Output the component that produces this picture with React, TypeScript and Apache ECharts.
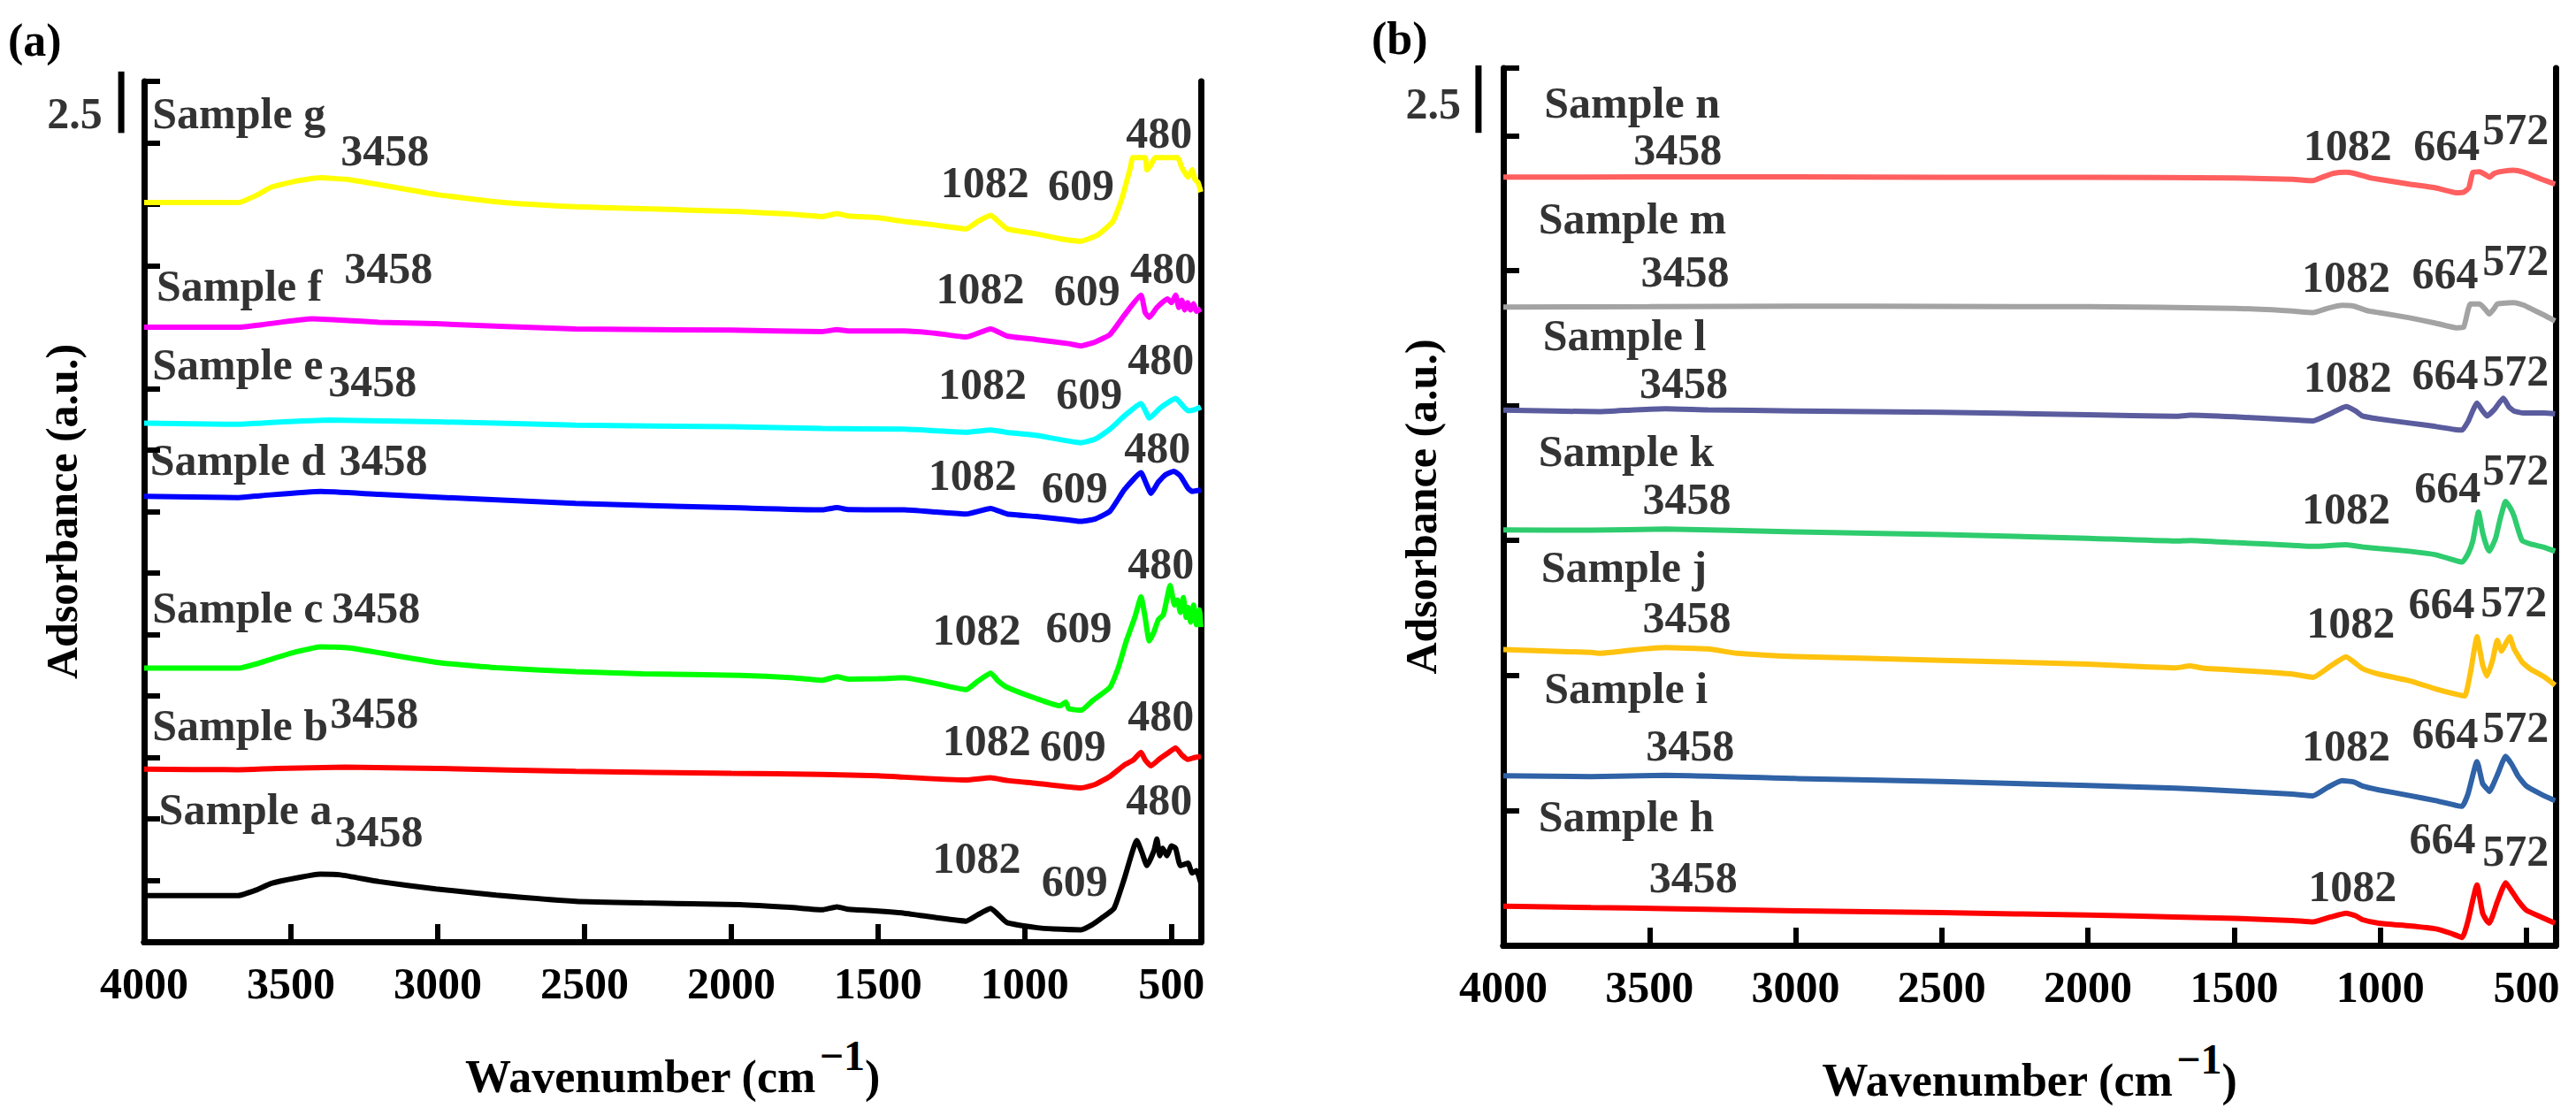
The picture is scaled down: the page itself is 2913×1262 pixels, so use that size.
import { useEffect, useRef } from 'react';
import * as echarts from 'echarts';

// wavenumber (cm-1) / absorbance pairs, offset stacked
const sampleA = [[4000,1.88],[3800,1.88],[3680,1.88],[3620,2.1],[3566,2.38],[3480,2.6],[3400,2.75],[3330,2.72],[3200,2.45],[3006,2.15],[2800,1.9],[2530,1.65],[2300,1.58],[1970,1.51],[1800,1.4],[1690,1.3],[1640,1.42],[1600,1.32],[1500,1.25],[1410,1.16],[1300,0.98],[1200,0.84],[1160,1.1],[1116,1.36],[1090,1.1],[1060,0.78],[962,0.58],[900,0.52],[808,0.49],[770,0.7],[740,0.95],[696,1.36],[660,2.6],[618,4.12],[600,3.6],[584,3.1],[560,3.7],[550,4.18],[540,3.5],[530,3.8],[516,3.5],[500,3.9],[486,3.8],[470,3.1],[444,3.2],[430,2.8],[415,2.9],[400,2.38]];
const sampleB = [[4000,7.02],[3680,7.0],[3550,7.05],[3314,7.1],[3000,7.05],[2530,6.93],[2000,6.85],[1690,6.81],[1500,6.75],[1200,6.58],[1116,6.67],[1060,6.56],[962,6.45],[808,6.26],[760,6.4],[710,6.73],[660,7.2],[630,7.4],[604,7.71],[590,7.4],[570,7.16],[540,7.45],[510,7.7],[486,7.89],[465,7.6],[444,7.42],[420,7.5],[400,7.54]];
const sampleC = [[4000,11.13],[3678,11.13],[3620,11.3],[3566,11.5],[3480,11.8],[3398,12.0],[3300,11.95],[3006,11.37],[2800,11.15],[2530,10.99],[2300,10.9],[1970,10.84],[1800,10.75],[1690,10.64],[1640,10.78],[1600,10.68],[1500,10.7],[1410,10.74],[1300,10.5],[1200,10.26],[1160,10.6],[1116,10.93],[1090,10.6],[1060,10.35],[962,9.9],[880,9.6],[860,9.75],[850,9.48],[808,9.42],[770,9.8],[710,10.35],[680,11.2],[654,12.24],[625,13.2],[604,14.03],[590,13.2],[576,12.24],[560,12.6],[545,13.1],[528,13.3],[515,14.0],[505,14.5],[500,14.26],[490,13.7],[480,13.9],[470,13.4],[460,14.0],[450,13.2],[444,13.6],[435,13.0],[425,13.7],[415,12.9],[405,13.5],[400,12.8]];
const sampleD = [[4000,18.12],[3678,18.07],[3600,18.15],[3398,18.32],[3200,18.2],[2530,17.83],[1970,17.65],[1690,17.57],[1640,17.66],[1600,17.58],[1410,17.57],[1300,17.48],[1200,17.4],[1116,17.63],[1060,17.4],[962,17.3],[850,17.16],[808,17.1],[760,17.2],[710,17.51],[660,18.4],[604,19.08],[585,18.6],[570,18.24],[545,18.7],[520,19.0],[492,19.14],[470,18.95],[444,18.45],[430,18.32],[400,18.38]];
const sampleE = [[4000,21.1],[3678,21.05],[3600,21.1],[3370,21.22],[3000,21.15],[2530,21.02],[2000,20.95],[1690,20.88],[1410,20.85],[1200,20.73],[1116,20.82],[1060,20.72],[962,20.6],[808,20.3],[760,20.45],[710,20.85],[660,21.4],[604,21.9],[585,21.5],[576,21.3],[540,21.7],[510,21.95],[486,22.1],[465,21.85],[444,21.6],[420,21.65],[400,21.75]];
const sampleF = [[4000,25.0],[3678,25.0],[3600,25.1],[3426,25.34],[3200,25.2],[3006,25.14],[2530,24.93],[2000,24.88],[1690,24.82],[1640,24.9],[1600,24.85],[1410,24.85],[1300,24.75],[1200,24.6],[1116,24.93],[1060,24.64],[962,24.5],[850,24.33],[808,24.24],[760,24.4],[710,24.7],[660,25.5],[604,26.3],[590,25.6],[576,25.4],[550,25.8],[514,26.15],[500,26.0],[486,26.3],[475,25.8],[465,26.1],[455,25.7],[445,26.0],[435,25.7],[425,25.95],[415,25.65],[400,25.75]];
const sampleG = [[4000,30.07],[3678,30.07],[3620,30.35],[3566,30.7],[3480,30.95],[3400,31.08],[3300,31.0],[3200,30.8],[3006,30.4],[2800,30.1],[2530,29.9],[2300,29.82],[1970,29.7],[1800,29.6],[1690,29.5],[1640,29.62],[1600,29.52],[1500,29.45],[1410,29.3],[1300,29.15],[1200,29.0],[1160,29.3],[1116,29.55],[1090,29.3],[1060,29.0],[962,28.8],[880,28.6],[808,28.5],[752,28.75],[700,29.3],[670,30.2],[640,31.5],[632,31.9],[590,31.9],[584,31.4],[570,31.6],[556,31.9],[480,31.9],[465,31.5],[450,31.2],[444,31.1],[430,31.4],[420,31.0],[410,30.9],[400,30.5]];

const sampleH = [[4000,1.45],[3700,1.4],[3445,1.36],[3000,1.28],[2500,1.21],[2000,1.12],[1700,1.05],[1500,1.0],[1300,0.92],[1230,0.87],[1170,1.05],[1117,1.19],[1085,1.1],[1061,0.95],[1005,0.82],[900,0.72],[810,0.61],[760,0.45],[720,0.29],[700,0.9],[669,2.24],[650,1.2],[635,0.9],[627,0.82],[600,1.6],[571,2.32],[550,2.0],[529,1.66],[500,1.3],[450,1.05],[402,0.82]];
const sampleI = [[4000,6.28],[3700,6.25],[3445,6.3],[3000,6.18],[2500,6.07],[2000,5.92],[1700,5.82],[1500,5.72],[1300,5.6],[1230,5.54],[1180,5.85],[1131,6.1],[1090,6.05],[1061,5.9],[1005,5.76],[900,5.55],[810,5.36],[740,5.18],[720,5.15],[700,5.6],[669,6.81],[650,6.0],[635,5.8],[627,5.7],[600,6.3],[571,7.0],[550,6.7],[529,6.28],[500,5.9],[450,5.6],[402,5.36]];
const sampleJ = [[4000,10.96],[3700,10.85],[3670,10.82],[3550,10.95],[3445,11.03],[3300,10.98],[3200,10.82],[3000,10.7],[2500,10.56],[2000,10.42],[1700,10.28],[1650,10.35],[1600,10.26],[1500,10.2],[1300,10.05],[1230,9.93],[1170,10.35],[1117,10.69],[1085,10.45],[1061,10.25],[1005,10.05],[900,9.8],[810,9.5],[740,9.3],[711,9.24],[690,10.2],[669,11.43],[650,10.4],[635,9.98],[615,10.6],[600,11.3],[585,10.9],[570,11.2],[557,11.43],[543,11.0],[515,10.5],[487,10.24],[440,9.95],[402,9.64]];
const sampleK = [[4000,15.39],[3700,15.38],[3445,15.42],[3000,15.32],[2500,15.22],[2000,15.08],[1700,14.98],[1650,15.0],[1500,14.92],[1300,14.82],[1230,14.78],[1117,14.84],[1061,14.76],[1005,14.7],[900,14.6],[810,14.47],[740,14.25],[720,14.2],[700,14.5],[683,15.0],[664,16.05],[650,15.3],[635,14.75],[627,14.6],[605,15.1],[590,15.79],[571,16.45],[555,16.2],[543,15.92],[515,15.0],[480,14.85],[440,14.75],[402,14.6]];
const sampleL = [[4000,19.83],[3670,19.77],[3550,19.84],[3445,19.88],[3300,19.84],[3000,19.8],[2500,19.75],[2000,19.66],[1700,19.6],[1650,19.64],[1500,19.58],[1300,19.47],[1230,19.43],[1170,19.7],[1117,19.96],[1085,19.8],[1061,19.61],[1005,19.5],[900,19.35],[810,19.22],[740,19.1],[720,19.09],[700,19.4],[669,20.09],[650,19.8],[635,19.61],[610,19.85],[579,20.27],[560,19.95],[543,19.8],[510,19.72],[487,19.72],[440,19.72],[402,19.69]];
const sampleM = [[4000,23.65],[3500,23.66],[3000,23.68],[2500,23.67],[2000,23.66],[1500,23.6],[1300,23.5],[1230,23.44],[1180,23.6],[1131,23.71],[1090,23.68],[1040,23.5],[1005,23.44],[900,23.25],[810,23.05],[740,22.88],[715,22.9],[692,23.76],[660,23.76],[640,23.55],[627,23.39],[610,23.6],[600,23.76],[543,23.81],[510,23.72],[487,23.6],[440,23.35],[402,23.13]];
const sampleN = [[4000,28.46],[3500,28.47],[3000,28.47],[2500,28.45],[2000,28.45],[1500,28.43],[1300,28.38],[1230,28.33],[1200,28.45],[1160,28.6],[1117,28.64],[1090,28.6],[1040,28.45],[1005,28.38],[900,28.2],[810,28.06],[740,27.88],[715,27.9],[697,28.06],[683,28.64],[660,28.66],[640,28.55],[627,28.46],[610,28.6],[580,28.68],[543,28.72],[510,28.65],[487,28.55],[440,28.35],[402,28.2]];

const seriesA = [
  { name: 'Sample a', color: '#000000', data: sampleA },
  { name: 'Sample b', color: '#ff0000', data: sampleB },
  { name: 'Sample c', color: '#00ff00', data: sampleC },
  { name: 'Sample d', color: '#0000ff', data: sampleD },
  { name: 'Sample e', color: '#00ffff', data: sampleE },
  { name: 'Sample f', color: '#ff00ff', data: sampleF },
  { name: 'Sample g', color: '#ffff00', data: sampleG },
];
const seriesB = [
  { name: 'Sample h', color: '#ff0000', data: sampleH },
  { name: 'Sample i', color: '#2f62a6', data: sampleI },
  { name: 'Sample j', color: '#ffc20e', data: sampleJ },
  { name: 'Sample k', color: '#2ecc6e', data: sampleK },
  { name: 'Sample l', color: '#5a5c9e', data: sampleL },
  { name: 'Sample m', color: '#a3a3a3', data: sampleM },
  { name: 'Sample n', color: '#ff5f5f', data: sampleN },
];

// sample names: [text, wavenumber, y]
const namesA = [
  ['Sample g', 3972, 33.7], ['Sample f', 3958, 26.7], ['Sample e', 3972, 23.5], ['Sample d', 3980, 19.6],
  ['Sample c', 3972, 13.6], ['Sample b', 3972, 8.8], ['Sample a', 3950, 5.4],
];
const peaksA = [
  ['3458', 3180, 32.2], ['1082', 1136, 30.9], ['609', 808, 30.8], ['480', 542, 32.9],
  ['3458', 3168, 27.4], ['1082', 1152, 26.6], ['609', 788, 26.5], ['480', 528, 27.4],
  ['3458', 3222, 22.8], ['1082', 1144, 22.7], ['609', 780, 22.3], ['480', 536, 23.7],
  ['3458', 3185, 19.6], ['1082', 1178, 19.0], ['609', 830, 18.5], ['480', 548, 20.1],
  ['3458', 3210, 13.6], ['1082', 1164, 12.7], ['609', 816, 12.8], ['480', 536, 15.4],
  ['3458', 3216, 9.3], ['1082', 1130, 8.2], ['609', 836, 8.0], ['480', 536, 9.2],
  ['3458', 3200, 4.5], ['1082', 1164, 3.4], ['609', 830, 2.5], ['480', 542, 5.8],
];
const namesB = [
  ['Sample n', 3860, 31.23], ['Sample m', 3880, 26.93], ['Sample l', 3865, 22.6], ['Sample k', 3880, 18.3],
  ['Sample j', 3871, 14.02], ['Sample i', 3860, 9.53], ['Sample h', 3880, 4.78],
];
const peaksB = [
  ['3458', 3403, 29.5], ['1082', 1112, 29.65], ['664', 773, 29.65], ['572', 537, 30.25],
  ['3458', 3378, 24.97], ['1082', 1117, 24.76], ['664', 778, 24.9], ['572', 537, 25.4],
  ['3458', 3383, 20.85], ['1082', 1112, 21.07], ['664', 778, 21.15], ['572', 537, 21.28],
  ['3458', 3372, 16.53], ['1082', 1117, 16.18], ['664', 770, 16.97], ['572', 537, 17.63],
  ['3458', 3372, 12.14], ['1082', 1101, 11.96], ['664', 790, 12.67], ['572', 543, 12.75],
  ['3458', 3361, 7.42], ['1082', 1117, 7.42], ['664', 778, 7.87], ['572', 537, 8.08],
  ['3458', 3350, 2.53], ['1082', 1095, 2.19], ['664', 787, 3.96], ['572', 537, 3.51],
];

const xTicks = [4000, 3500, 3000, 2500, 2000, 1500, 1000, 500];
const yMaxA = 35;
const yStepA = 2.5;
const yMaxB = 32.5;
const yStepB = 5;
// 2.5 a.u. scale bars: [wavenumber, yFrom, yTo]; label: [wavenumber, y]
const scaleBarA = [4078, 32.9, 35.4];
const scaleTextA = [4142, 33.7];
const scaleBarB = [4085, 30.1, 32.6];
const scaleTextB = [4145, 31.2];

const FONT = 'Liberation Serif, Times New Roman, serif';

export default function App() {
  const chartRef = useRef<HTMLDivElement>(null);

  useEffect(() => {
    if (!chartRef.current) return;
    document.body.style.margin = '0';
    const chart = echarts.init(chartRef.current, null, { renderer: 'svg' });

    const xAxisFor = (gridIndex: number) => ({
      gridIndex,
      type: 'value',
      inverse: true,
      min: 400,
      max: 4000,
      name: '{a|Wavenumber (cm}{s|−1}{a|)}',
      nameLocation: 'middle',
      nameGap: 104,
      nameTextStyle: {
        rich: {
          a: { fontFamily: FONT, fontWeight: 'bold', fontSize: 52, color: '#000', verticalAlign: 'bottom' },
          s: { fontFamily: FONT, fontWeight: 'bold', fontSize: 48, color: '#000', verticalAlign: 'bottom', padding: [0, 0, 26, 4] },
        },
      },
      axisLine: { show: true, lineStyle: { color: '#000', width: 7 } },
      axisTick: { show: true, inside: true, length: 20, customValues: xTicks, lineStyle: { color: '#000', width: 6 } },
      axisLabel: {
        show: true,
        customValues: xTicks,
        formatter: (v: number) => String(v),
        margin: 22,
        fontFamily: FONT,
        fontWeight: 'bold',
        fontSize: 50,
        color: '#000',
      },
      splitLine: { show: false },
    });

    // plain axis used only as the top frame line
    const xFrameFor = (gridIndex: number) => ({
      gridIndex,
      type: 'value',
      position: 'top',
      inverse: true,
      min: 400,
      max: 4000,
      axisLine: { show: true, lineStyle: { color: '#000', width: 7 } },
      axisTick: { show: false },
      axisLabel: { show: false },
      splitLine: { show: false },
    });

    const yAxisFor = (gridIndex: number, max: number, step: number) => ({
      gridIndex,
      type: 'value',
      min: 0,
      max,
      interval: step,
      name: 'Adsorbance (a.u.)',
      nameLocation: 'middle',
      nameRotate: 90,
      nameGap: 68,
      nameTextStyle: { fontFamily: FONT, fontWeight: 'bold', fontSize: 50, color: '#000' },
      axisLine: { show: true, lineStyle: { color: '#000', width: 7 } },
      axisTick: { show: true, inside: true, length: 18, lineStyle: { color: '#000', width: 6 } },
      axisLabel: { show: false },
      splitLine: { show: false },
    });

    const yFrameFor = (gridIndex: number, max: number) => ({
      gridIndex,
      type: 'value',
      position: 'right',
      min: 0,
      max,
      axisLine: { show: true, lineStyle: { color: '#000', width: 7 } },
      axisTick: { show: false },
      axisLabel: { show: false },
      splitLine: { show: false },
    });

    const curves = (list: typeof seriesA, idx: number) =>
      list.map((s) => ({
        type: 'line',
        name: s.name,
        xAxisIndex: idx,
        yAxisIndex: idx,
        data: s.data,
        showSymbol: false,
        symbol: 'none',
        smooth: 0.15,
        lineStyle: { color: s.color, width: 6 },
        itemStyle: { color: s.color },
        z: 3,
      }));

    const textSeries = (rows: (string | number)[][], idx: number, align: string) => ({
      type: 'scatter',
      xAxisIndex: idx,
      yAxisIndex: idx,
      silent: true,
      clip: false,
      symbolSize: 1,
      itemStyle: { color: 'rgba(0,0,0,0)' },
      data: rows.map((r) => ({ name: r[0], value: [r[1], r[2]] })),
      label: {
        show: true,
        position: 'inside',
        align,
        verticalAlign: 'middle',
        formatter: '{b}',
        fontFamily: FONT,
        fontWeight: 'bold',
        fontSize: 50,
        lineHeight: 50,
        color: '#000',
      },
      z: 5,
    });

    const option = {
      animation: false,
      backgroundColor: '#fff',
      title: [
        { text: '(a)', left: 4, top: 14, textStyle: { fontFamily: FONT, fontWeight: 'bold', fontSize: 52, color: '#000' } },
        { text: '(b)', left: 1546, top: 12, textStyle: { fontFamily: FONT, fontWeight: 'bold', fontSize: 52, color: '#000' } },
      ],
      grid: [
        { left: 163, top: 92, width: 1195, height: 973 },
        { left: 1700, top: 77, width: 1190, height: 992 },
      ],
      xAxis: [xAxisFor(0), xAxisFor(1), xFrameFor(0), xFrameFor(1)],
      yAxis: [yAxisFor(0, yMaxA, yStepA), yAxisFor(1, yMaxB, yStepB), yFrameFor(0, yMaxA), yFrameFor(1, yMaxB)],
      series: [
        ...curves(seriesA, 0),
        ...curves(seriesB, 1),
        textSeries(namesA, 0, 'left'),
        textSeries(peaksA, 0, 'center'),
        textSeries(namesB, 1, 'left'),
        textSeries(peaksB, 1, 'center'),
        textSeries([['2.5', scaleTextA[0], scaleTextA[1]]], 0, 'right'),
        textSeries([['2.5', scaleTextB[0], scaleTextB[1]]], 1, 'right'),
      ],
    };

    chart.setOption(option as echarts.EChartsOption);

    // scale bars: placed through the axes' own scales
    const bars = [
      { bar: scaleBarA, idx: 0 },
      { bar: scaleBarB, idx: 1 },
    ].map(({ bar, idx }) => {
      const p0 = chart.convertToPixel({ xAxisIndex: idx, yAxisIndex: idx }, [bar[0], bar[1]]) as number[];
      const p1 = chart.convertToPixel({ xAxisIndex: idx, yAxisIndex: idx }, [bar[0], bar[2]]) as number[];
      return {
        type: 'line',
        silent: true,
        shape: { x1: p0[0], y1: p0[1], x2: p1[0], y2: p1[1] },
        style: { stroke: '#000', lineWidth: 7 },
      };
    });
    chart.setOption({ graphic: bars });

    const handleResize = () => chart.resize();
    window.addEventListener('resize', handleResize);
    return () => {
      window.removeEventListener('resize', handleResize);
      chart.dispose();
    };
  }, []);

  return <div ref={chartRef} style={{ width: '2913px', height: '1262px' }} />;
}
